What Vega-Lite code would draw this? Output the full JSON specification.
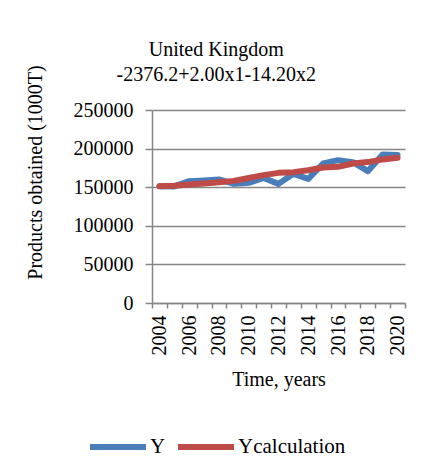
{
  "$schema": "https://vega.github.io/schema/vega-lite/v6.json",
  "width": 253,
  "height": 193,
  "autosize": {"type": "none"},
  "padding": {"left": 152, "top": 110, "right": 20, "bottom": 171},
  "background": "white",
  "config": {
    "view": {"stroke": null},
    "font": "Liberation Serif",
    "axis": {"labelFont": "Liberation Serif", "titleFont": "Liberation Serif", "labelColor": "black", "titleColor": "black", "titleFontWeight": "normal", "labelOverlap": false}
  },
  "title": {
    "text": ["United Kingdom", "-2376.2+2.00x1-14.20x2"],
    "font": "Liberation Serif",
    "fontSize": 20,
    "fontWeight": "normal",
    "color": "black",
    "lineHeight": 25,
    "anchor": "middle",
    "frame": "bounds",
    "offset": -20
  },
  "data": {
    "values": [
      {"year": 2004, "Y": 151300, "Ycalculation": 151300},
      {"year": 2005, "Y": 151000, "Ycalculation": 152000},
      {"year": 2006, "Y": 157800, "Ycalculation": 153500},
      {"year": 2007, "Y": 158700, "Ycalculation": 154800},
      {"year": 2008, "Y": 160000, "Ycalculation": 156500},
      {"year": 2009, "Y": 154300, "Ycalculation": 158200},
      {"year": 2010, "Y": 155600, "Ycalculation": 162000},
      {"year": 2011, "Y": 162000, "Ycalculation": 165600},
      {"year": 2012, "Y": 154300, "Ycalculation": 168600},
      {"year": 2013, "Y": 167300, "Ycalculation": 169500},
      {"year": 2014, "Y": 160800, "Ycalculation": 172000},
      {"year": 2015, "Y": 180700, "Ycalculation": 175500},
      {"year": 2016, "Y": 185000, "Ycalculation": 176400},
      {"year": 2017, "Y": 182500, "Ycalculation": 180700},
      {"year": 2018, "Y": 170800, "Ycalculation": 182500},
      {"year": 2019, "Y": 192400, "Ycalculation": 186000},
      {"year": 2020, "Y": 191600, "Ycalculation": 188100}
    ]
  },
  "transform": [{"fold": ["Y", "Ycalculation"], "as": ["series", "value"]}],
  "encoding": {
    "y": {
      "field": "value", "type": "quantitative",
      "scale": {"domain": [0, 250000], "nice": false},
      "axis": {
        "values": [0, 50000, 100000, 150000, 200000, 250000],
        "format": "d",
        "labelOverlap": false,
        "title": "Products obtained (1000T)",
        "titleFontSize": 20,
        "titleAngle": -90,
        "titleBaseline": "middle",
        "titleAlign": "center",
        "titleX": -117,
        "titleY": 62,
        "labelFontSize": 20,
        "labelPadding": 12,
        "grid": true, "gridColor": "#868686", "gridWidth": 1.5,
        "domainColor": "#868686", "domainWidth": 1.5,
        "tickColor": "#868686", "tickWidth": 1.5, "tickSize": 7
      }
    },
    "color": {
      "field": "series", "type": "nominal",
      "scale": {"domain": ["Y", "Ycalculation"], "range": ["#4A7EBB", "#BE4B48"]},
      "legend": {
        "title": null,
        "orient": "none",
        "direction": "horizontal",
        "legendX": -65,
        "legendY": 306,
        "symbolType": "stroke",
        "symbolSize": 3136,
        "symbolStrokeWidth": 6,
        "labelFont": "Liberation Serif",
        "labelFontSize": 21,
        "labelColor": "black",
        "labelOffset": 1,
        "columnPadding": 0
      }
    }
  },
  "layer": [
    {
      "mark": {"type": "line", "strokeWidth": 6, "strokeCap": "round", "strokeJoin": "round"},
      "encoding": {
        "x": {
          "field": "year", "type": "quantitative",
          "scale": {"domain": [2003.5, 2020.5], "nice": false, "zero": false},
          "axis": {
            "values": [2003.5, 2004.5, 2005.5, 2006.5, 2007.5, 2008.5, 2009.5, 2010.5, 2011.5, 2012.5, 2013.5, 2014.5, 2015.5, 2016.5, 2017.5, 2018.5, 2019.5, 2020.5],
            "labels": false, "grid": false, "title": null,
            "domainColor": "#868686", "domainWidth": 1.5,
            "tickColor": "#868686", "tickWidth": 1.5, "tickSize": 5,
            "orient": "bottom"
          }
        }
      }
    },
    {
      "mark": {"type": "line", "opacity": 0},
      "encoding": {
        "x": {
          "field": "year", "type": "quantitative",
          "scale": {"domain": [2003.5, 2020.5], "nice": false, "zero": false},
          "axis": {
            "orient": "bottom",
            "values": [2004, 2006, 2008, 2010, 2012, 2014, 2016, 2018, 2020],
            "format": "d",
            "labelAngle": -90,
            "labelFontSize": 20,
            "labelPadding": 12,
            "labelOverlap": false,
            "ticks": false, "domain": false, "grid": false,
            "title": "Time, years",
            "titleFontSize": 20,
            "titlePadding": 14
          }
        }
      }
    }
  ],
  "resolve": {"axis": {"x": "independent"}}
}
